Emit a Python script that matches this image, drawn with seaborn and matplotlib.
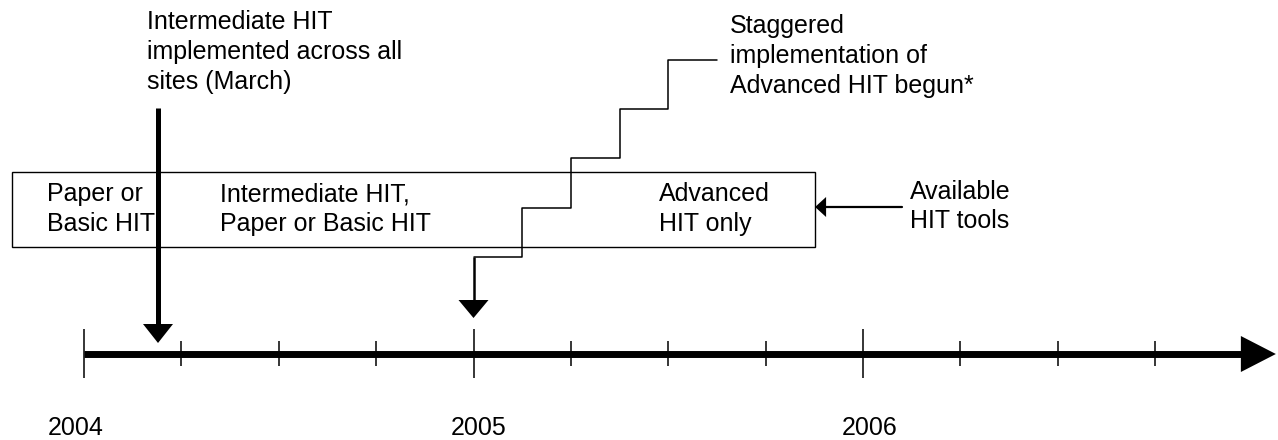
import numpy as np
import pandas as pd
import matplotlib.pyplot as plt
import seaborn as sns

# Timeline data (x in years)
years = [2004, 2005, 2006]
year_labels = ['2004', '2005', '2006']
quarter_ticks = [2004 + q / 4 for q in range(12)]
axis_end = 2007.06

intermediate_date = 2004.19          # March 2004
intermediate_text = 'Intermediate HIT\nimplemented across all\nsites (March)'
advanced_date = 2005.0
advanced_text = 'Staggered\nimplementation of\nAdvanced HIT begun*'

box_start, box_end = 2003.815, 2005.877
tool_labels = ['Paper or\nBasic HIT', 'Intermediate HIT,\nPaper or Basic HIT', 'Advanced\nHIT only']
tool_label_x = [2003.905, 2004.349, 2005.476]
box_caption = 'Available\nHIT tools'

# layout (pixels, y grows downward)
PX_PER_YEAR = 389.5
X0_PX = 84
AXIS_Y = 354
BOX_TOP, BOX_BOTTOM = 172, 247
FS = 18
LS = 1.30

sns.set_theme(style='white')
plt.rcParams['font.family'] = ['Liberation Sans', 'DejaVu Sans']
plt.rcParams['text.color'] = 'black'

fig = plt.figure(figsize=(12.78, 4.4), dpi=100)
ax = fig.add_axes([0, 0, 1, 1])
ax.set_xlim(2004 - X0_PX / PX_PER_YEAR, 2004 + (1278 - X0_PX) / PX_PER_YEAR)
ax.set_ylim(440, 0)
ax.axis('off')


def px(n):
    return n / PX_PER_YEAR


def head(x_tip, y_tip, direction, length, half):
    # filled triangular arrow head, sizes in pixels
    if direction == 'down':
        xs = [x_tip - px(half), x_tip + px(half), x_tip]
        ys = [y_tip - length, y_tip - length, y_tip]
    elif direction == 'right':
        xs = [x_tip - px(length), x_tip - px(length), x_tip]
        ys = [y_tip - half, y_tip + half, y_tip]
    else:  # left
        xs = [x_tip + px(length), x_tip + px(length), x_tip]
        ys = [y_tip - half, y_tip + half, y_tip]
    ax.fill(xs, ys, color='black', lw=0)


# main time axis
axis_df = pd.DataFrame({'x': [years[0], axis_end - px(35)], 'y': [AXIS_Y, AXIS_Y]})
sns.lineplot(data=axis_df, x='x', y='y', color='black', lw=5, ax=ax,
             estimator=None, sort=False, solid_capstyle='butt')
head(axis_end, AXIS_Y, 'right', 35, 18)
for t in quarter_ticks:
    h = 24.5 if t in years else 12.5
    ax.vlines(t, AXIS_Y - h, AXIS_Y + h, color='black', lw=1.1)
for x, lab in zip([2003.979, 2005.013, 2006.018], year_labels):
    ax.text(x, 435, lab, ha='center', va='baseline', fontsize=FS)

# tools box (va='baseline' on multiline text aligns the last line)
ax.add_patch(plt.Rectangle((box_start, BOX_TOP), box_end - box_start, BOX_BOTTOM - BOX_TOP,
                           fill=False, ec='black', lw=1.0))
for x, lab in zip(tool_label_x, tool_labels):
    ax.text(x, 231, lab, ha='left', va='baseline', fontsize=FS, linespacing=LS)

# intermediate HIT arrow
ax.vlines(intermediate_date, 108, 325, color='black', lw=3.6)
head(intermediate_date, 343, 'down', 19, 15)
ax.text(2004.162, 88.5, intermediate_text, ha='left', va='baseline', fontsize=FS, linespacing=LS)

# staggered advanced HIT: stepped leader line
n_steps = 5
step_w = 0.125
step_h = 49.25
sx, sy = [advanced_date + n_steps * step_w], [60]
for i in range(n_steps):
    sx.append(sx[-1] - step_w)
    sy.append(sy[-1])
    if i < n_steps - 1:
        sx.append(sx[-1])
        sy.append(sy[-1] + step_h)
stairs = pd.DataFrame({'x': sx, 'y': sy})
sns.lineplot(data=stairs, x='x', y='y', color='black', lw=1.1, ax=ax,
             estimator=None, sort=False)
ax.vlines(advanced_date, sy[-1], 301, color='black', lw=1.8)
head(advanced_date, 318, 'down', 18, 15)
ax.text(2005.659, 92.5, advanced_text, ha='left', va='baseline', fontsize=FS, linespacing=LS)

# caption for box
ax.plot([2006.10, box_end + px(10)], [207, 207], color='black', lw=1.6)
head(box_end, 207, 'left', 11, 10)
ax.text(2006.121, 228.5, box_caption, ha='left', va='baseline', fontsize=FS, linespacing=LS)

fig.savefig('out.png', dpi=100)
